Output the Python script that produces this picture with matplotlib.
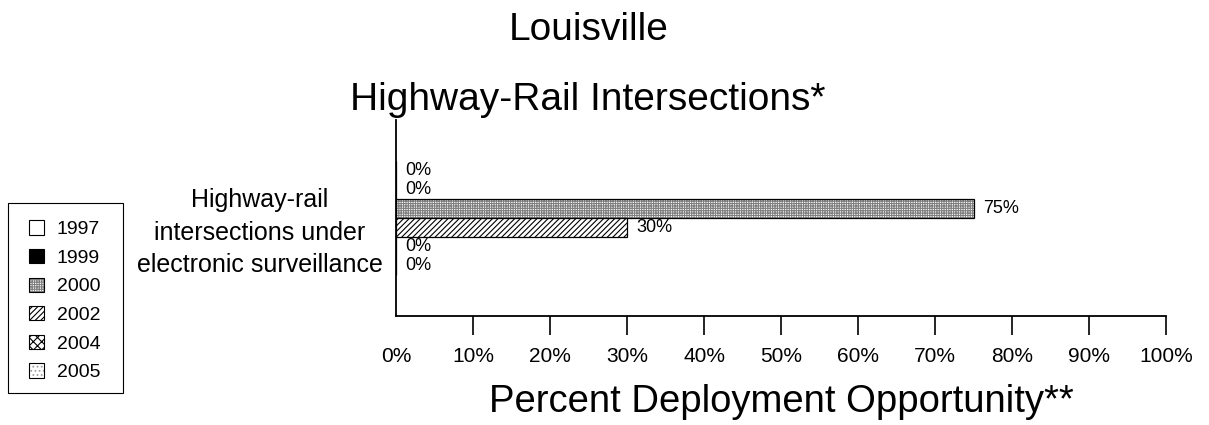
import numpy as np
import matplotlib
matplotlib.use("Agg")
import matplotlib.pyplot as plt
from matplotlib.patches import Patch, Rectangle
from matplotlib.transforms import ScaledTranslation

plt.rcParams['font.family'] = ['Liberation Sans', 'DejaVu Sans']
plt.rcParams['hatch.linewidth'] = 0.8

# data
category = "Highway-rail\nintersections under\nelectronic surveillance"
years = ["1997", "1999", "2000", "2002", "2004", "2005"]
values = [0, 0, 75, 30, 0, 0]
xticks = [0, 10, 20, 30, 40, 50, 60, 70, 80, 90, 100]

# styles per year
faces = ["white", "black", "white", "white", "white", "white"]
hatches = [None, None, "+" * 7, "/" * 6, "x" * 4, "." * 4]
hcolors = ["black", "black", "#808080", "black", "black", "#a0a0a0"]

fig = plt.figure(figsize=(12.09, 4.25), dpi=100)
ax = fig.add_axes([0.3275, 0.2565, 0.6370, 0.4611])

bar_h = 0.097
n = len(years)
for i, (yr, v) in enumerate(zip(years, values)):
    y = (i - (n - 1) / 2) * bar_h
    # hatch layer, then black outline on top
    ax.barh(y, v, height=bar_h, color=faces[i], edgecolor=hcolors[i],
            hatch=hatches[i], linewidth=0)
    ax.barh(y, v, height=bar_h, fill=False, edgecolor="black", linewidth=0.9)
    ax.annotate("%d%%" % v, (v, y), xytext=(7, 0), textcoords="offset points",
                va="center", ha="left", fontsize=13)

ax.set_ylim(0.5, -0.5)
ax.set_xlim(0, 100)
ax.set_yticks([0])
ax.set_yticklabels([category], fontsize=18, ha="center", linespacing=1.45)
ax.tick_params(axis="y", length=0, pad=98)
for lbl in ax.get_yticklabels():
    lbl.set_transform(lbl.get_transform() + ScaledTranslation(0, -0.08, fig.dpi_scale_trans))
ax.set_xticks(xticks)
ax.set_xticklabels(["%d%%" % t for t in xticks], fontsize=15)
ax.tick_params(axis="x", direction="out", length=14, width=1.2, pad=8)
ax.xaxis.get_major_ticks()[0].tick1line.set_visible(False)

for s in ["top", "right"]:
    ax.spines[s].set_visible(False)
for s in ["left", "bottom"]:
    ax.spines[s].set_linewidth(1.3)

ax.set_xlabel("Percent Deployment Opportunity**", fontsize=27.5, labelpad=13)

fig.text(0.487, 0.930, "Louisville", fontsize=28, ha="center", va="center")
fig.text(0.486, 0.765, "Highway-Rail Intersections*", fontsize=28,
         ha="center", va="center")

handles = []
for i in range(n):
    hp = Patch(facecolor=faces[i], edgecolor=hcolors[i], hatch=hatches[i],
               linewidth=0)
    op = Patch(fill=False, edgecolor="black", linewidth=0.8)
    handles.append((hp, op))
leg = fig.legend(handles=handles, labels=years, loc="upper left",
                 bbox_to_anchor=(8 / 1209, 1 - 199 / 425), fontsize=14,
                 frameon=False, handlelength=0.75, handleheight=0.75,
                 handletextpad=0.65, labelspacing=0.55, borderpad=1.1,
                 borderaxespad=0)
fig.add_artist(Rectangle((8 / 1209, 1 - 393 / 425), 115 / 1209, 190 / 425,
                         transform=fig.transFigure, fill=False,
                         edgecolor="black", linewidth=0.8))

fig.savefig("out.png", dpi=100)
